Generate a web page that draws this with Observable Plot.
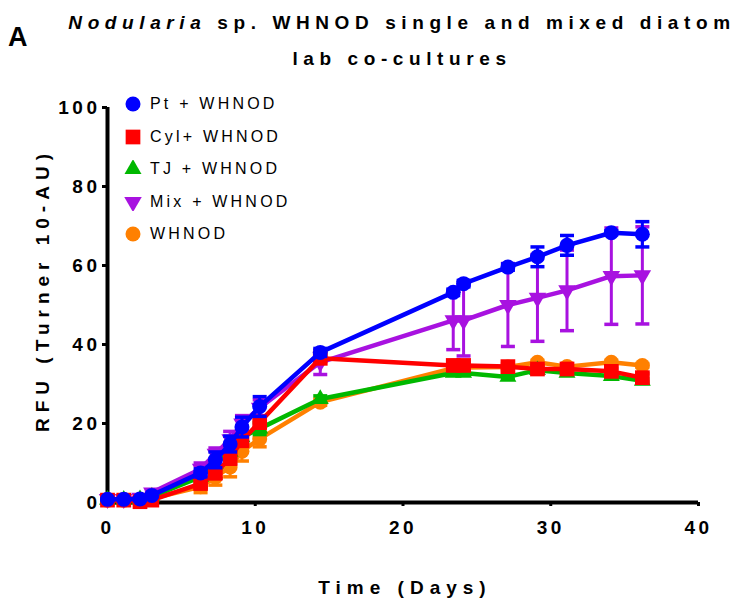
<!DOCTYPE html>
<html>
<head>
<meta charset="utf-8">
<script src="https://cdn.jsdelivr.net/npm/d3@7"></script>
<script src="https://cdn.jsdelivr.net/npm/@observablehq/plot@0.6"></script>
<style>
  body { margin:0; background:#fff; font-family:"Liberation Sans", Arial, sans-serif; }
  #wrap { position:relative; width:739px; height:602px; overflow:hidden; }
  #chart { position:absolute; left:0; top:0; }
  #chart svg text { letter-spacing:3.5px; font-weight:bold; fill:#000; }
  .abs { position:absolute; white-space:nowrap; color:#000; }
  .title { left:52px; width:700px; text-align:center; font-size:19px; line-height:19px; font-weight:bold; letter-spacing:5.6px; }
  .lab { font-size:19px; font-weight:bold; letter-spacing:6px; line-height:19px; transform-origin:center; }
  .leg { position:absolute; left:124px; top:88px; }
  .row { display:flex; align-items:center; height:32.5px; font-size:16px; letter-spacing:3.2px; }
  .row svg { width:18px; height:18px; margin-right:8px; }
</style>
</head>
<body>
<div id="wrap">
  <div id="chart"></div>
  <div class="abs" style="left:8px;top:24px;font-size:27px;line-height:27px;font-weight:bold;">A</div>
  <div class="abs title" style="top:13px;"><i>Nodularia</i> sp. WHNOD single and mixed diatom</div>
  <div class="abs title" style="top:49px;">lab co-cultures</div>
  <div class="abs lab" style="left:42px;top:290px;transform:translate(-50%,-50%) rotate(-90deg);">RFU (Turner 10-AU)</div>
  <div class="abs lab" style="left:405px;top:587px;transform:translate(-50%,-50%);">Time (Days)</div>
  <div class="leg" id="legend"></div>
</div>
<script>
// ---- data ----
const days = [0, 1.1, 2.2, 3, 6.3, 7.3, 8.3, 9.1, 10.3, 14.4, 23.4, 24.1, 27.1, 29.1, 31.1, 34.1, 36.2];

const ptValues   = [0.8, 0.8, 0.9, 1.8, 7.5, 10.8, 14.8, 19.1, 24.3, 38.0, 53.2, 55.4, 59.6, 62.2, 65.1, 68.3, 67.9];
const ptErr      = [0.2, 0.2, 0.2, 0.3, 1.0, 2.0, 2.0, 2.5, 2.5, 1.0, 0.8, 0.8, 0.8, 2.5, 2.5, 0.5, 3.2];

const cylValues  = [0.6, 0.6, 0.2, 0.6, 4.8, 7.5, 11.2, 15.7, 20.3, 36.5, 34.7, 34.7, 34.4, 33.8, 33.8, 33.2, 31.6];
const cylErr     = [0.2, 0.2, 0.2, 0.3, 1.0, 1.5, 1.5, 1.5, 1.5, 0.8, 0.8, 1.0, 0.8, 0.8, 0.8, 0.8, 1.0];

const tjValues   = [0.7, 0.7, 0.8, 1.5, 6.5, 9.8, 12.8, 16.5, 18.7, 26.2, 32.8, 32.8, 31.8, 33.5, 32.8, 32.0, 30.8];
const tjErr      = [0.2, 0.2, 0.2, 0.3, 1.0, 1.2, 1.5, 1.5, 1.5, 0.8, 0.5, 0.5, 0.5, 0.5, 0.5, 0.5, 0.5];

const mixValues  = [0.9, 0.9, 1.2, 2.5, 8.5, 12.3, 16.0, 20.0, 24.0, 35.5, 46.1, 46.1, 50.0, 51.8, 53.7, 57.3, 57.5];
const mixErr     = [0.2, 0.2, 0.3, 0.5, 1.5, 1.5, 2.0, 2.0, 2.0, 3.1, 7.4, 9.0, 10.5, 11.0, 10.2, 12.2, 12.3];

const whnodValues = [0.6, 0.6, 0.6, 1.0, 4.0, 6.4, 9.0, 13.0, 16.1, 25.4, 34.0, 34.2, 34.3, 35.5, 34.4, 35.5, 34.7];
const whnodErr    = [0.2, 0.2, 0.2, 0.3, 1.5, 2.0, 2.5, 2.5, 2.0, 0.8, 0.5, 0.5, 0.5, 0.5, 0.5, 0.5, 0.5];

const seriesNames = ["Pt + WHNOD", "Cyl+ WHNOD", "TJ + WHNOD", "Mix + WHNOD", "WHNOD"];
const xTicks = [0, 10, 20, 30, 40];
const yTicks = [0, 20, 40, 60, 80, 100];

// ---- styling per series (drawing order: WHNOD, TJ, Mix, Cyl, Pt) ----
const styles = {
  "Pt + WHNOD":  {color:"#0000ff", symbol:"circle",   rotate:0,   r:7.5, values:ptValues,   err:ptErr},
  "Cyl+ WHNOD":  {color:"#ff0000", symbol:"square",   rotate:0,   r:8.3, values:cylValues,  err:cylErr},
  "TJ + WHNOD":  {color:"#00b800", symbol:"triangle", rotate:0,   r:6.3, values:tjValues,   err:tjErr},
  "Mix + WHNOD": {color:"#a812e0", symbol:"triangle", rotate:180, r:6.5, values:mixValues,  err:mixErr},
  "WHNOD":       {color:"#ff8000", symbol:"circle",   rotate:0,   r:7.5, values:whnodValues,err:whnodErr}
};
const drawOrder = ["WHNOD", "TJ + WHNOD", "Mix + WHNOD", "Cyl+ WHNOD", "Pt + WHNOD"];

const capSymbol = {
  draw(context, size) {
    const w = Math.sqrt(size / Math.PI);
    context.moveTo(-w, 0);
    context.lineTo(w, 0);
  }
};

const seriesMarks = [];
for (const name of drawOrder) {
  const s = styles[name];
  const rows = days.map((d, i) => ({day:d, v:s.values[i], lo:s.values[i]-s.err[i], hi:s.values[i]+s.err[i]}));
  seriesMarks.push(
    Plot.line(rows, {x:"day", y:"v", stroke:s.color, strokeWidth:4.5}),
    Plot.ruleX(rows, {x:"day", y1:"lo", y2:"hi", stroke:s.color, strokeWidth:3}),
    Plot.dot(rows, {x:"day", y:"lo", symbol:capSymbol, r:7, stroke:s.color, strokeWidth:3.5}),
    Plot.dot(rows, {x:"day", y:"hi", symbol:capSymbol, r:7, stroke:s.color, strokeWidth:3.5}),
    Plot.dot(rows, {x:"day", y:"v", symbol:s.symbol, rotate:s.rotate, r:s.r, fill:s.color, stroke:"none"})
  );
}

const chart = Plot.plot({
  width:739, height:602,
  marginLeft:107, marginRight:41, marginTop:107, marginBottom:100,
  style:{fontFamily:"Liberation Sans, Arial, sans-serif", background:"transparent", overflow:"visible", color:"#000"},
  x:{domain:[0,40]},
  y:{domain:[0,100]},
  marks:[
    Plot.axisX({ticks:xTicks, tickSize:4, tickPadding:14, fontSize:19, strokeWidth:3, label:null}),
    Plot.axisY({ticks:yTicks, tickSize:5, tickPadding:2, fontSize:19, strokeWidth:3, label:null}),
    Plot.ruleX([0], {strokeWidth:4}),
    Plot.ruleY([0], {strokeWidth:4}),
    ...seriesMarks
  ]
});
document.getElementById("chart").appendChild(chart);

// ---- legend ----
const legend = document.getElementById("legend");
for (const name of seriesNames) {
  const s = styles[name];
  const sym = d3.symbol(s.symbol === "circle" ? d3.symbolCircle : s.symbol === "square" ? d3.symbolSquare : d3.symbolTriangle, Math.PI * s.r * s.r)();
  const row = document.createElement("div");
  row.className = "row";
  row.innerHTML = `<svg viewBox="-9 -9 18 18"><path d="${sym}" fill="${s.color}" transform="rotate(${s.rotate})"/></svg><span>${name}</span>`;
  legend.appendChild(row);
}
</script>
</body>
</html>
